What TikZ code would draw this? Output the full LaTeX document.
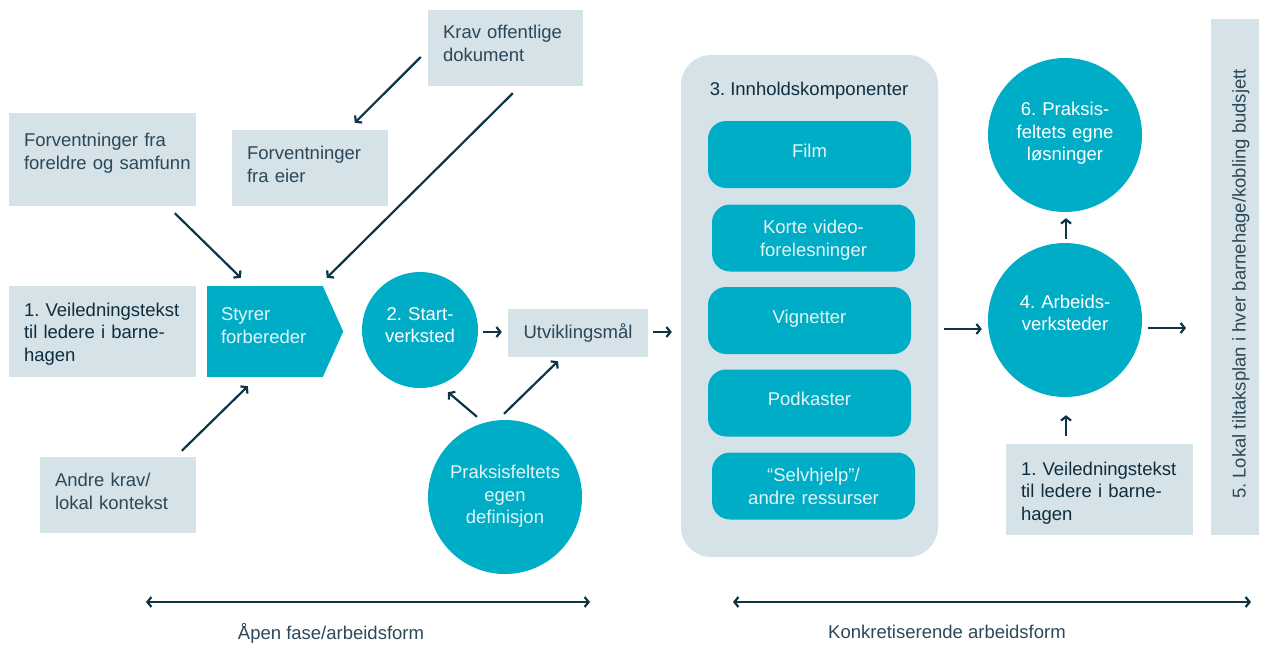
\documentclass[tikz,border=0pt]{standalone}
\usepackage{fontspec}
\setmainfont{Liberation Sans}
\usetikzlibrary{arrows.meta,calc}
\definecolor{teal0}{HTML}{00ADC6}
\definecolor{pale}{HTML}{D5E2E8}
\definecolor{ink}{HTML}{0E3445}
\definecolor{txt}{HTML}{2C4858}
\definecolor{dark}{HTML}{0F2D3D}
\definecolor{soft}{HTML}{E2F5F8}
\begin{document}
\frenchspacing
\begin{tikzpicture}[x=1pt,y=-1pt,
  every node/.style={font=\fontsize{18.5}{22.5}\selectfont},
  gbox/.style={fill=pale,text=txt,inner xsep=15pt,inner ysep=0pt,align=left,text height=15pt},
  cnode/.style={circle,fill=teal0,text=white,inner sep=0pt,align=center,text height=15pt},
  tbox/.style={fill=teal0,rounded corners=18pt,text=soft,inner sep=0pt,align=center,minimum width=203pt,minimum height=67pt,text width=180pt,text height=15pt},
  arr/.style={draw=ink,line width=2.2pt,-{Straight Barb[length=4pt,width=10pt]}},
  dbl/.style={draw=ink,line width=2.2pt,{Straight Barb[length=4pt,width=10pt]}-{Straight Barb[length=4pt,width=10pt]}}
]
\useasboundingbox (0,0) rectangle (1261,646);

% left column boxes
\node[gbox,minimum width=155pt,minimum height=76pt,text width=125pt,text depth=34pt] (krav) at (505.5,48) {Krav offentlige\\dokument};
\node[gbox,minimum width=156pt,minimum height=76pt,text width=126pt,text depth=32pt] (eier) at (310,168) {Forventninger\\fra eier};
\node[gbox,minimum width=187pt,minimum height=93pt,text width=157pt,text depth=41pt] (foreldre) at (102.5,159.5) {\mbox{Forventninger fra}\\\mbox{foreldre og samfunn}};
\node[gbox,text=dark,minimum width=187pt,minimum height=91pt,text width=157pt,text depth=45.6pt] (veil) at (102.5,331.5) {\mbox{1. Veiledningstekst}\\til ledere i barne-\\hagen};
\node[gbox,minimum width=156pt,minimum height=76pt,text width=126pt,text depth=32pt] (andre) at (118,495) {Andre krav/\\lokal kontekst};

% styrer forbereder (pentagon)
\node[fill=teal0,text=soft,inner xsep=14pt,inner ysep=0pt,align=left,minimum width=116pt,minimum height=91pt,text width=88pt,text height=15pt,text depth=37pt] (styrer) at (265,331.5) {Styrer\\forbereder};
\fill[teal0] ($(styrer.north east)+(-0.5,0)$) -- ($(styrer.east)+(20,0)$) -- ($(styrer.south east)+(-0.5,0)$) -- cycle;

% start circle, utviklingsmaal, praksisfeltets egen definisjon
\node[cnode,minimum size=116pt,text width=100pt,text depth=35pt] (start) at (420,330) {2. Start-\\verksted};
\node[gbox,align=center,minimum width=140pt,minimum height=48pt,text width=110pt,text depth=4.6pt] (utv) at (578,333) {Utviklingsmål};
\node[cnode,text=soft,minimum size=154pt,text width=130pt,text depth=51.6pt] (praks) at (505,497) {Praksisfeltets\\egen\\definisjon};

% content components
\node[fill=pale,rounded corners=30pt,minimum width=257pt,minimum height=502pt] (big) at (809.5,306) {};
\node[text=dark] (title) at (809,91) {3. Innholdskomponenter};
\node[tbox,text depth=9.6pt] (film) at (809.5,154.5) {Film};
\node[tbox,text depth=23.1pt] (korte) at (813.5,238) {Korte video-\\forelesninger};
\node[tbox,text depth=9.6pt] (vign) at (809.5,320.5) {Vignetter};
\node[tbox,text depth=10.6pt] (podk) at (809.5,403) {Podkaster};
\node[tbox,text depth=23.1pt] (selv) at (813.5,486) {“Selvhjelp”/\\andre ressurser};

% right side
\node[cnode,minimum size=154pt,text width=130pt,text depth=53.6pt] (c6) at (1065,135) {6. Praksis-\\feltets egne\\løsninger};
\node[cnode,minimum size=154pt,text width=130pt,text depth=38.1pt] (c4) at (1065,320) {4. Arbeids-\\verksteder};
\node[gbox,text=dark,minimum width=187pt,minimum height=91pt,text width=157pt,text depth=43.6pt] (veil2) at (1099.5,489.5) {\mbox{1. Veiledningstekst}\\til ledere i barne-\\hagen};
\node[fill=pale,text=txt,rotate=90,inner sep=0pt,minimum width=516pt,minimum height=48pt,text height=25pt,text depth=3.6pt] (plan) at (1235,277) {\hspace*{-14pt}5. Lokal tiltaksplan i hver barnehage/kobling budsjett};

% connectors
\draw[arr] ($(foreldre.south west)+(166,7)$) -- ($(styrer.north west)+(34,-8)$);
\draw[arr] ($(krav.south west)+(85,7)$) -- ($(styrer.north west)+(120,-8)$);
\draw[arr] ($(krav.west)+(-7,9)$) -- ($(eier.north west)+(123,-7)$);
\draw[arr] ($(andre.north west)+(142,-6)$) -- ($(styrer.south west)+(41,9)$);
\draw[arr] ($(start.east)+(5,2)$) -- ($(utv.west)+(-6,-1)$);
\draw[arr] ($(utv.east)+(5,-1)$) -- ($(big.west)+(-9,26)$);
\draw[arr] ($(praks.north)+(-28,-3)$) -- ($(start.south)+(28,4)$);
\draw[arr] ($(praks.north)+(-1,-6)$) -- ($(utv.south)+(-20,4)$);
\draw[arr] ($(big.east)+(6,23)$) -- ($(c4.west)+(-6,9)$);
\draw[arr] ($(c4.east)+(6,8)$) -- ($(plan.center)+(-49,51)$);
\draw[arr] ($(c4.north)+(1,-4)$) -- ($(c6.south)+(1,6)$);
\draw[arr] ($(veil2.north)+(-33.5,-8)$) -- ($(c4.south)+(1,18)$);

% phase arrows
\coordinate (l1) at (146,602);
\coordinate (r1) at (590,602);
\draw[dbl] (l1) -- (r1);
\node[text=txt] (lab1) at (331,633) {Åpen fase/arbeidsform};
\coordinate (l2) at (733,602);
\coordinate (r2) at (1251,602);
\draw[dbl] (l2) -- (r2);
\node[text=txt] (lab2) at (947,632) {Konkretiserende arbeidsform};
\end{tikzpicture}
\end{document}
